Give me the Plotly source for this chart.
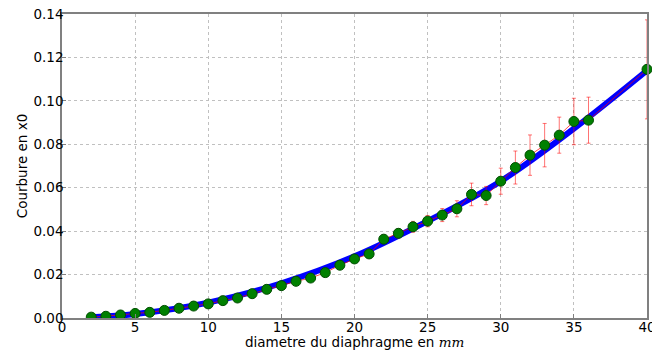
import plotly.graph_objects as go

# measured data
diam = [2, 3, 4, 5, 6, 7, 8, 9, 10, 11, 12, 13, 14, 15, 16, 17, 18, 19, 20,
        21, 22, 23, 24, 25, 26, 27, 28, 29, 30, 31, 32, 33, 34, 35, 36, 40]
courbure = [0.0004, 0.0008, 0.0014, 0.0021, 0.0026, 0.0035, 0.0045, 0.0055, 0.0065,
            0.0080, 0.0092, 0.0112, 0.0132, 0.0149, 0.0169, 0.0184, 0.0209, 0.0243,
            0.0272, 0.0295, 0.0363, 0.0390, 0.0420, 0.0446, 0.0474, 0.0503, 0.0569,
            0.0564, 0.0630, 0.0693, 0.0750, 0.0796, 0.0842, 0.0905, 0.0911, 0.1145]
erreur = [0.0002, 0.0002, 0.0003, 0.0003, 0.0004, 0.0004, 0.0005, 0.0005, 0.0006,
          0.0007, 0.0008, 0.0009, 0.0010, 0.0011, 0.0012, 0.0013, 0.0014, 0.0015,
          0.0016, 0.0018, 0.0020, 0.0021, 0.0025, 0.0026, 0.0030, 0.0037, 0.0052,
          0.0042, 0.0060, 0.0076, 0.0093, 0.0100, 0.0083, 0.0107, 0.0106, 0.0228]

# fitted curve
fit_x = [2, 5, 10, 15, 20, 25, 30, 35, 40]
fit_y = [0.0003, 0.0018, 0.0071, 0.0160, 0.0284, 0.0446, 0.0630, 0.0872, 0.1140]

x_ticks = [0, 5, 10, 15, 20, 25, 30, 35, 40]
y_ticks = [0.00, 0.02, 0.04, 0.06, 0.08, 0.10, 0.12, 0.14]

x_title = "diametre du diaphragme en <i style='font-family:DejaVu Serif'>mm</i>"
y_title = "Courbure en x0"

fig = go.Figure()
fig.add_trace(go.Scatter(x=fit_x, y=fit_y, mode="lines",
                         line=dict(color="blue", width=6, shape="spline"),
                         showlegend=False))
fig.add_trace(go.Scatter(x=diam, y=courbure, mode="lines",
                         line=dict(color="rgba(255,0,0,0.7)", width=1),
                         error_y=dict(type="data", array=erreur, visible=True,
                                      color="rgba(255,0,0,0.55)", thickness=1, width=2),
                         cliponaxis=False, showlegend=False))
n_low = 3
fig.add_trace(go.Scatter(x=diam[:n_low], y=courbure[:n_low], mode="markers",
                         marker=dict(color="green", size=10,
                                     line=dict(color="#004d00", width=1)),
                         cliponaxis=True, showlegend=False))
fig.add_trace(go.Scatter(x=diam[n_low:], y=courbure[n_low:], mode="markers",
                         marker=dict(color="green", size=10,
                                     line=dict(color="#004d00", width=1)),
                         cliponaxis=False, showlegend=False))

axis_common = dict(showline=True, linecolor="#808080", linewidth=1.5, mirror=True,
                   ticks="inside", ticklen=4, tickcolor="#808080",
                   showgrid=True, gridcolor="#c0c0c0", griddash="dot", gridwidth=1,
                   zeroline=False, ticklabeloverflow="allow", automargin=False,
                   tickfont=dict(family="DejaVu Sans", size=13.5, color="black"))

fig.update_layout(
    width=652, height=351,
    margin=dict(l=62, r=5, t=14, b=33, autoexpand=False),
    paper_bgcolor="white", plot_bgcolor="white",
    font=dict(family="DejaVu Sans", size=13.5, color="black"),
    xaxis=dict(range=[0, 40], tickvals=x_ticks, ticklabelstandoff=-4, **axis_common),
    yaxis=dict(range=[0, 0.14], tickvals=y_ticks, tickformat=".2f", ticklabelstandoff=-6,
               title=dict(text=y_title, standoff=3, font=dict(size=13.5)),
               **axis_common),
    annotations=[dict(text=x_title, xref="paper", yref="paper", x=0.5, y=0,
                      xanchor="center", yanchor="middle", yshift=-24,
                      showarrow=False, font=dict(size=13.5))],
)

fig.write_html("out.html")
